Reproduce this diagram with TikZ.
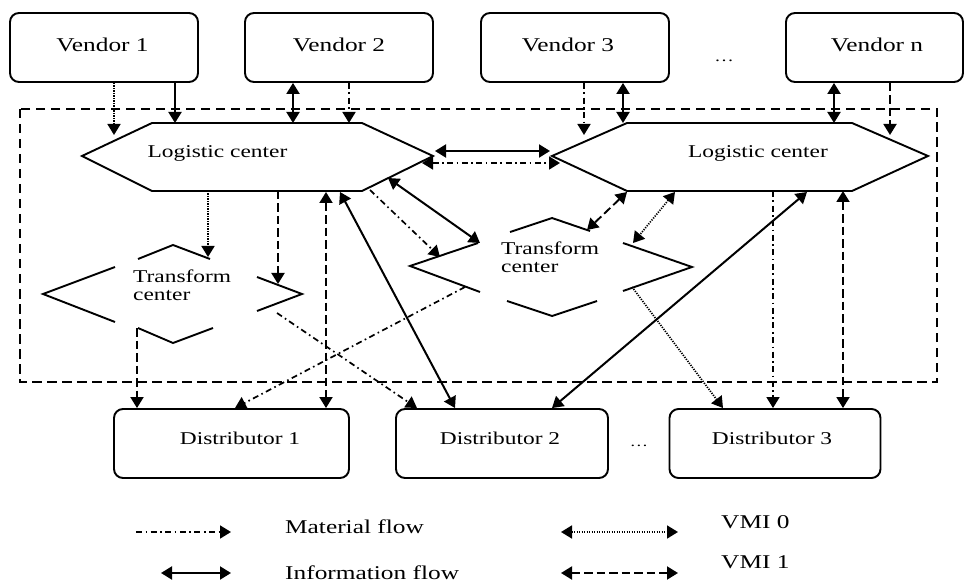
\documentclass[tikz,border=0pt]{standalone}
\usepackage{fontspec}
\setmainfont{Liberation Serif}[FakeStretch=1.3]
\usetikzlibrary{arrows.meta}

\tikzset{
  hd/.tip={Triangle[length=11pt,width=13pt]},
  box/.style={draw, line width=1.9pt, rounded corners=9pt, inner sep=0pt},
  outline/.style={line width=1.9pt, line join=miter},
  frame/.style={line width=2pt, dash pattern=on 9.5pt off 5.5pt},
  info/.style={line width=2pt},
  mat/.style={line width=1.7pt, dash pattern=on 6pt off 3.5pt on 1.6pt off 3.5pt},
  vmizero/.style={line width=1.7pt, dash pattern=on 1.2pt off 1.3pt},
  vmione/.style={line width=1.9pt, dash pattern=on 8.5pt off 4pt},
  vtxt/.style={anchor=base, inner sep=0pt, font=\fontsize{19.5}{22}\selectfont},
  ltxt/.style={anchor=base, inner sep=0pt, font=\fontsize{18}{18}\selectfont},
  ttxt/.style={anchor=north west, inner sep=0pt, align=left, font=\fontsize{18}{18}\selectfont},
  gtxt/.style={anchor=base west, inner sep=0pt, font=\fontsize{19.5}{22}\selectfont},
}

\begin{document}
\begin{tikzpicture}[x=1pt,y=-1pt]
\useasboundingbox (0,0) rectangle (966,585);

% ---------- vendors ----------
\node[box, minimum width=188pt, minimum height=69pt] (v1) at (104,47.5) {};
\node[box, minimum width=188pt, minimum height=69pt] (v2) at (339,47.5) {};
\node[box, minimum width=188pt, minimum height=69pt] (v3) at (575,47.5) {};
\node[box, minimum width=177pt, minimum height=69pt] (vn) at (874.5,47.5) {};
\node[vtxt] (v1t) at (102.5,52) {Vendor 1};
\node[vtxt] (v2t) at (339,52) {Vendor 2};
\node[vtxt] (v3t) at (568,52) {Vendor 3};
\node[vtxt] (vnt) at (877,52) {Vendor n};
\node[vtxt, font=\fontsize{15}{15}\selectfont] (vdots) at (724,62) {\dots};

% ---------- enterprise boundary ----------
\draw[frame] (20,109) rectangle (937,382);

% ---------- logistic centers ----------
\draw[outline] (82,156) -- (152,123) -- (362,123) -- (433,156) -- (362,191) -- (152,191) -- cycle;
\draw[outline] (552,156) -- (627,123) -- (852,123) -- (928,156) -- (852,191) -- (627,191) -- cycle;
\node[ltxt] (lcat) at (217.5,158) {Logistic center};
\node[ltxt] (lcbt) at (758,158) {Logistic center};

% ---------- transform centers ----------
\draw[outline] (115,267) -- (43,294) -- (115,322);
\draw[outline] (138,259) -- (173,245) -- (210,259);
\draw[outline] (257,277) -- (302,294) -- (257,311);
\draw[outline] (138,328) -- (173,343) -- (213,328);
\node[ttxt] (tcat) at (133,269.5) {Transform\\center};

\draw[outline] (478,243) -- (410,266) -- (480,292);
\draw[outline] (510,232) -- (552,218) -- (590,231);
\draw[outline] (623,243) -- (692,267) -- (623,291);
\draw[outline] (507,301) -- (552,316) -- (597,301);
\node[ttxt] (tcbt) at (501,241.5) {Transform\\center};

% ---------- distributors ----------
\node[box, minimum width=235pt, minimum height=69pt] (d1) at (231.5,443.5) {};
\node[box, minimum width=212pt, minimum height=69pt] (d2) at (502,443.5) {};
\node[box, minimum width=211pt, minimum height=69pt] (d3) at (775,443.5) {};
\node[ltxt] (d1t) at (240,444) {Distributor 1};
\node[ltxt] (d2t) at (500,444) {Distributor 2};
\node[ltxt] (d3t) at (772,444) {Distributor 3};
\node[ltxt, font=\fontsize{14}{14}\selectfont] (ddots) at (639,446) {\dots};

% ---------- connector end points ----------
% logistic center A (left)
\coordinate (la1) at (114,135);
\coordinate (la2) at (175,123);
\coordinate (la3) at (293,123);
\coordinate (la4) at (349,123);
\coordinate (la5) at (435,151);
\coordinate (la6) at (422,163);
\coordinate (la7) at (208,191);
\coordinate (la8) at (278,191);
\coordinate (la9) at (326,192);
\coordinate (la10) at (340,192);
\coordinate (la11) at (370,190);
\coordinate (la12) at (388,178);
% logistic center B (right)
\coordinate (lb1) at (584,135);
\coordinate (lb2) at (623,123);
\coordinate (lb3) at (834,123);
\coordinate (lb4) at (890,135);
\coordinate (lb5) at (550,151);
\coordinate (lb6) at (560,163);
\coordinate (lb7) at (627,192);
\coordinate (lb8) at (675,192);
\coordinate (lb9) at (807,192);
\coordinate (lb10) at (773,191);
\coordinate (lb11) at (843,191);
% transform center A (left)
\coordinate (ta1) at (208,257);
\coordinate (ta2) at (278,284);
\coordinate (ta3) at (137,328);
\coordinate (ta4) at (277,313);
% transform center B (right)
\coordinate (tb1) at (440,257);
\coordinate (tb2) at (480,243);
\coordinate (tb3) at (587,230);
\coordinate (tb4) at (633,243);
\coordinate (tb5) at (465,287);
\coordinate (tb6) at (632,287);

% ---------- vendors to logistic centers ----------
\draw[vmizero, -hd] (v1.south -| la1) -- (la1);
\draw[info, -hd] (v1.south -| la2) -- (la2);
\draw[info, hd-hd] (v2.south -| la3) -- (la3);
\draw[mat, -hd] (v2.south -| la4) -- (la4);
\draw[mat, -hd] (v3.south -| lb1) -- (lb1);
\draw[info, hd-hd] (v3.south -| lb2) -- (lb2);
\draw[info, hd-hd] (vn.south -| lb3) -- (lb3);
\draw[vmione, -hd] (vn.south -| lb4) -- (lb4);

% ---------- between logistic centers ----------
\draw[info, hd-hd] (la5) -- (lb5);
\draw[mat, hd-hd] (la6) -- (lb6);

% ---------- logistic center A outgoing ----------
\draw[vmizero, -hd] (la7) -- (ta1);
\draw[vmione, -hd] (la8) -- (ta2);
\draw[vmione, hd-hd] (la9) -- (d1.north -| la9);
\draw[info, hd-hd] (la10) -- ([xshift=-47pt]d2.north);
\draw[mat, -hd] (la11) -- (tb1);
\draw[info, hd-hd] (la12) -- (tb2);

% ---------- logistic center B outgoing ----------
\draw[vmione, hd-hd] (lb7) -- (tb3);
\draw[vmizero, hd-hd] (lb8) -- (tb4);
\draw[info, hd-hd] (lb9) -- ([xshift=50pt]d2.north);
\draw[mat, -hd] (lb10) -- (d3.north -| lb10);
\draw[vmione, hd-hd] (lb11) -- (d3.north -| lb11);

% ---------- transform centers to distributors ----------
\draw[vmione, -hd] (ta3) -- (d1.north -| ta3);
\draw[mat, -hd] (ta4) -- ([xshift=-85pt]d2.north);
\draw[mat, -hd] (tb5) -- ([xshift=3.5pt]d1.north);
\draw[vmizero, -hd] (tb6) -- ([xshift=-52pt]d3.north);

% ---------- legend ----------
\coordinate (g1a) at (136,532); \coordinate (g1b) at (231,532);
\coordinate (g2a) at (561,532); \coordinate (g2b) at (678,532);
\coordinate (g3a) at (161,573); \coordinate (g3b) at (231,573);
\coordinate (g4a) at (561,573); \coordinate (g4b) at (678,573);
\draw[mat, -hd] (g1a) -- (g1b);
\draw[vmizero, hd-hd] (g2a) -- (g2b);
\draw[info, hd-hd] (g3a) -- (g3b);
\draw[vmione, hd-hd] (g4a) -- (g4b);
\node[gtxt] (g1t) at (285,533) {Material flow};
\node[gtxt] (g2t) at (721,528) {VMI 0};
\node[gtxt] (g3t) at (285,579.5) {Information flow};
\node[gtxt] (g4t) at (721,568) {VMI 1};
\end{tikzpicture}
\end{document}
